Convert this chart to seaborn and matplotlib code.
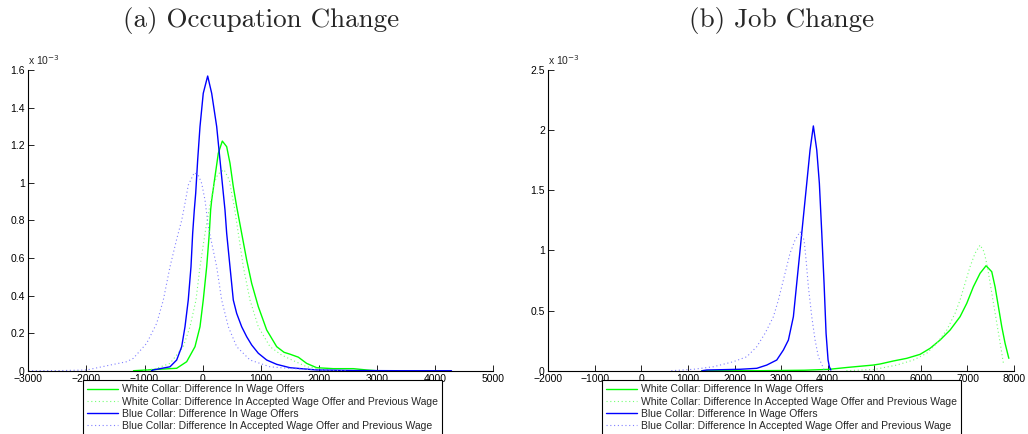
import matplotlib
matplotlib.use("Agg")
import matplotlib.pyplot as plt
import numpy as np
import pandas as pd
import seaborn as sns
from matplotlib.ticker import FuncFormatter, MultipleLocator

# Kernel density estimates of wage differences (density in units of 1e-3)

# (a) Occupation change
occ_white_offer_x = [-1190, -447, -275, -132, -46, 10, 69, 114, 137, 155, 212, 269, 338, 413, 470,
                     527, 585, 671, 757, 843, 957, 1101, 1273, 1400, 1502, 1646, 1789, 1961, 2248,
                     2592, 2821, 2993]
occ_white_offer_y = [0.0, 0.013, 0.048, 0.128, 0.234, 0.376, 0.553, 0.731, 0.855, 0.908, 1.033, 1.157,
                     1.222, 1.192, 1.104, 0.979, 0.873, 0.731, 0.589, 0.465, 0.341, 0.217, 0.128,
                     0.098, 0.088, 0.072, 0.039, 0.016, 0.011, 0.011, 0.004, 0.0]

occ_white_accept_x = [-1020, -791, -562, -334, -218, -115, -46, 40, 120, 200, 260, 367, 458, 499,
                      544, 613, 699, 814, 957, 1158, 1350, 1502, 1789, 2133, 2400]
occ_white_accept_y = [0.0, 0.013, 0.039, 0.128, 0.234, 0.376, 0.553, 0.731, 0.873, 1.0, 1.045,
                      1.07, 1.015, 0.944, 0.873, 0.731, 0.553, 0.376, 0.234, 0.128, 0.085,
                      0.062, 0.021, 0.004, 0.0]

occ_blue_offer_x = [-880, -850, -562, -447, -361, -304, -248, -201, -172, -144, -120, -86, -46,
                    10, 86, 155, 241, 298, 355, 384, 413, 470, 527, 585, 671, 757, 843, 957, 1101,
                    1273, 1502, 1961, 2600, 3400, 4280]
occ_blue_offer_y = [0.0, 0.004, 0.021, 0.057, 0.128, 0.234, 0.376, 0.553, 0.731, 0.855, 0.944,
                    1.121, 1.299, 1.476, 1.568, 1.476, 1.299, 1.121, 0.944, 0.855, 0.731, 0.553, 0.376,
                    0.305, 0.234, 0.181, 0.137, 0.093, 0.057, 0.034, 0.016, 0.004, 0.001, 0.0, 0.0]

occ_blue_accept_x = [-3000, -2400, -1995, -1594, -1307, -1193, -963, -791, -677, -562, -447, -361,
                     -304, -247, -144, -76, -17, 40, 97, 241, 327, 441, 585, 814, 1158, 1502,
                     1961, 2500]
occ_blue_accept_y = [0.0, 0.001, 0.004, 0.03, 0.048, 0.066, 0.146, 0.252, 0.376, 0.553, 0.70, 0.80,
                     0.891, 0.988, 1.054, 1.041, 0.997, 0.908, 0.766, 0.553, 0.376, 0.234, 0.128,
                     0.057, 0.021, 0.012, 0.004, 0.0]

# (b) Job change
job_white_offer_x = [1290, 2500, 3500, 4009, 4438, 4975, 5124, 5410, 5696, 5982, 6197, 6412, 6627,
                     6841, 6985, 7127, 7271, 7400, 7522, 7593, 7665, 7737, 7808, 7880, 7889]
job_white_offer_y = [0.0, 0.0, 0.004, 0.011, 0.028, 0.047, 0.056, 0.081, 0.103, 0.136, 0.186, 0.255,
                     0.338, 0.449, 0.56, 0.698, 0.81, 0.873, 0.823, 0.698, 0.532, 0.366, 0.228,
                     0.116, 0.103]

job_white_accept_x = [4400, 5011, 5124, 5482, 5839, 6126, 6341, 6556, 6734, 6841, 6949, 7056, 7163,
                      7271, 7357, 7428, 7500, 7571, 7643, 7715, 7772]
job_white_accept_y = [0.0, 0.011, 0.02, 0.047, 0.089, 0.145, 0.228, 0.338, 0.477, 0.588, 0.727, 0.865,
                      0.976, 1.045, 0.989, 0.865, 0.698, 0.532, 0.366, 0.2, 0.062]

job_blue_offer_x = [1300, 1402, 2118, 2476, 2690, 2905, 3047, 3155, 3262, 3334, 3406, 3477, 3549,
                    3620, 3691, 3764, 3820, 3872, 3921, 3964, 4007, 4035, 4066]
job_blue_offer_y = [0.0, 0.006, 0.012, 0.02, 0.047, 0.089, 0.172, 0.255, 0.449, 0.727, 1.004, 1.28,
                    1.558, 1.835, 2.035, 1.835, 1.558, 1.142, 0.727, 0.311, 0.089, 0.033, 0.006]

job_blue_accept_x = [640, 1115, 1544, 1973, 2261, 2476, 2654, 2833, 2940, 3047, 3190, 3298, 3406,
                     3492, 3535, 3584, 3657, 3728, 3799, 3893, 3930]
job_blue_accept_y = [0.0, 0.012, 0.033, 0.075, 0.116, 0.2, 0.311, 0.449, 0.588, 0.754, 0.976, 1.087,
                     1.156, 1.087, 0.92, 0.698, 0.449, 0.255, 0.116, 0.033, 0.0]

series_labels = [
    "White Collar: Difference In Wage Offers",
    "White Collar: Difference In Accepted Wage Offer and Previous Wage",
    "Blue Collar: Difference In Wage Offers",
    "Blue Collar: Difference In Accepted Wage Offer and Previous Wage",
]
titles = ["(a) Occupation Change", "(b) Job Change"]

sns.set_style("white")
plt.rcParams["font.family"] = ["Liberation Sans", "DejaVu Sans"]

fig = plt.figure(figsize=(10.28, 4.34), dpi=100)
ax_a = fig.add_axes([0.0275, 0.1458, 0.4524, 0.6929])
ax_b = fig.add_axes([0.5334, 0.1458, 0.4530, 0.6929])

dots = (0, (1, 2.4))
styles = [
    dict(color=(0.0, 1.0, 0.0), linestyle="-", lw=1.0),
    dict(color=(0.45, 1.0, 0.45), linestyle=dots, lw=0.8),
    dict(color=(0.0, 0.0, 1.0), linestyle="-", lw=1.0),
    dict(color=(0.5, 0.5, 1.0), linestyle=dots, lw=0.8),
]

panels = [
    (ax_a, [(occ_white_offer_x, occ_white_offer_y), (occ_white_accept_x, occ_white_accept_y),
            (occ_blue_offer_x, occ_blue_offer_y), (occ_blue_accept_x, occ_blue_accept_y)],
     (-3000, 5000), (0, 1.6), 0.2, 0.117),
    (ax_b, [(job_white_offer_x, job_white_offer_y), (job_white_accept_x, job_white_accept_y),
            (job_blue_offer_x, job_blue_offer_y), (job_blue_accept_x, job_blue_accept_y)],
     (-2000, 8000), (0, 2.5), 0.5, 0.1147),
]

fmt = FuncFormatter(lambda v, p: f"{v:g}")

for (ax, curves, xlim, ylim, ystep, leg_x), title in zip(panels, titles):
    for (xs, ys), st, lab in zip(curves, styles, series_labels):
        df = pd.DataFrame({"x": xs, "y": ys})
        sns.lineplot(data=df, x="x", y="y", ax=ax, label=lab, sort=False,
                     estimator=None, **st)
    ax.set_xlim(*xlim)
    ax.set_ylim(*ylim)
    ax.xaxis.set_major_locator(MultipleLocator(1000))
    ax.yaxis.set_major_locator(MultipleLocator(ystep))
    ax.yaxis.set_major_formatter(fmt)
    ax.set_xlabel("")
    ax.set_ylabel("")
    for side in ("top", "right"):
        ax.spines[side].set_visible(False)
    for side in ("left", "bottom"):
        ax.spines[side].set_color("black")
        ax.spines[side].set_linewidth(0.8)
    ax.tick_params(direction="in", length=4, width=0.6, labelsize=7.5, colors="black",
                   pad=2.5, bottom=True, left=True)
    ax.set_facecolor("white")
    ax.text(0.0, 1.01, r"x 10$^{-3}$", transform=ax.transAxes, fontsize=7.5,
            ha="left", va="bottom")
    ax.set_title(title, family="cmr10", fontsize=19.5, pad=31)
    leg = ax.legend(loc="upper left", bbox_to_anchor=(leg_x, -0.031), fontsize=7.5,
                    frameon=True, fancybox=False, edgecolor="black", framealpha=1,
                    borderpad=0.4, labelspacing=0.22, handlelength=3.0,
                    handletextpad=0.4, borderaxespad=0)
    leg.get_frame().set_linewidth(0.8)
    leg.set_zorder(10)

fig.savefig("out.png", dpi=100, facecolor="white")
